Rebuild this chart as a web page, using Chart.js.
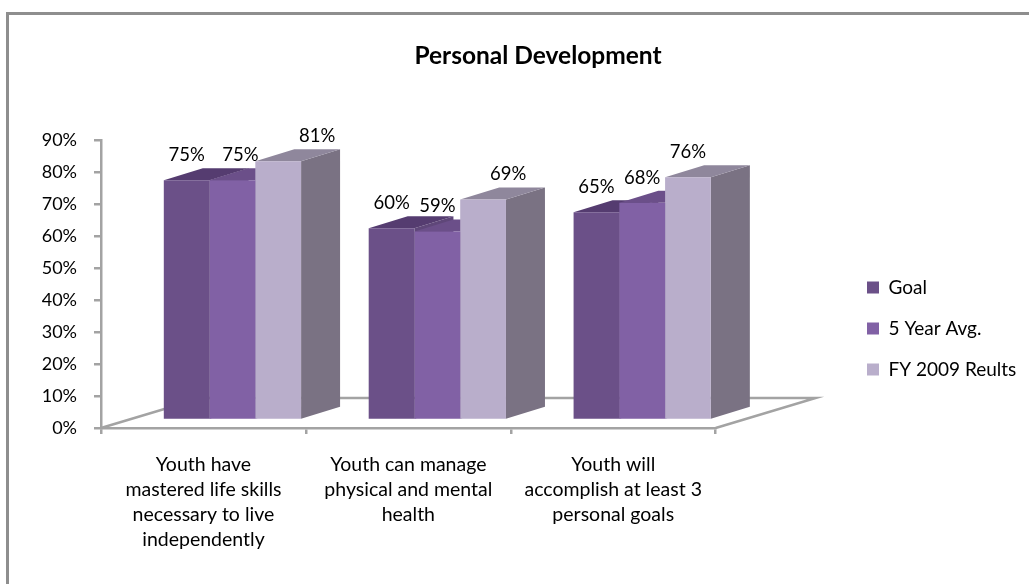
<!DOCTYPE html>
<html lang="en">
<head>
    <meta charset="UTF-8">
    <title>Personal Development</title>
    <script src="https://cdn.jsdelivr.net/npm/chart.js@4/dist/chart.umd.min.js"></script>
    <style>
        html, body { margin: 0; padding: 0; background: #fff; }
        #wrap { width: 1029px; height: 584px; }
    </style>
</head>
<body>
    <div id="wrap"><canvas id="chart" width="1029" height="584"></canvas></div>

    <script>
        const categories = [
            ['Youth have', 'mastered life skills', 'necessary to live', 'independently'],
            ['Youth can manage', 'physical and mental', 'health'],
            ['Youth will', 'accomplish at least 3', 'personal goals']
        ];
        const goal = [75, 60, 65];
        const fiveYearAvg = [75, 59, 68];
        const fyResults = [81, 69, 76];
        const yTicks = [0, 10, 20, 30, 40, 50, 60, 70, 80, 90];

        const FONT = 'Lato, "Open Sans", sans-serif';
        const AXIS = '#a3a3a3';
        // depth of the 3d look, in pixels
        const BAR_SHIFT = { x: 29, y: -8 };
        const BAR_DEPTH = { x: 39, y: -12 };
        const FLOOR = { x: 100, y: -30 };
        // hand placed labels in the original, [dataset][category]
        const LABEL_DX = [[0, 0, 0], [8, 0, 0], [39, 25, 0]];

        const faces = [
            { front: '#6b5088', side: '#5f4779', top: '#553c70' },
            { front: '#8161a5', side: '#6c5189', top: '#6b4f89' },
            { front: '#b9aecb', side: '#7a7283', top: '#8f879c' }
        ];

        function face(ctx, pts, color) {
            ctx.fillStyle = color;
            ctx.beginPath();
            pts.forEach((p, i) => i ? ctx.lineTo(p[0], p[1]) : ctx.moveTo(p[0], p[1]));
            ctx.closePath();
            ctx.fill();
        }

        const plot3d = {
            id: 'plot3d',
            afterLayout(chart) {
                chart.titleBlock.left = 0;
                chart.titleBlock.right = 1076;
                // legend sits far from the plot in the original
                const lg = chart.legend;
                lg.left = 845;
                lg.right = 1029;
                lg.top = 256;
                lg.bottom = 584;
            },
            beforeDraw(chart) {
                // the frame is cropped, only top and left are left
                const ctx = chart.ctx;
                ctx.save();
                ctx.strokeStyle = '#8e8e8e';
                ctx.lineWidth = 3;
                ctx.beginPath();
                ctx.moveTo(1029, 13.5);
                ctx.lineTo(7.5, 13.5);
                ctx.lineTo(7.5, 584);
                ctx.stroke();
                ctx.restore();
            },
            beforeDatasetsDraw(chart) {
                const { ctx, chartArea: a } = chart;
                ctx.save();
                ctx.strokeStyle = AXIS;
                ctx.lineWidth = 2.5;
                ctx.beginPath();
                ctx.moveTo(a.left, a.bottom);
                ctx.lineTo(a.left + FLOOR.x, a.bottom + FLOOR.y);
                ctx.lineTo(a.right + FLOOR.x, a.bottom + FLOOR.y);
                ctx.lineTo(a.right, a.bottom);
                ctx.stroke();
                ctx.restore();

                // sides and tops first, the front faces cover them afterwards
                ctx.save();
                ctx.translate(BAR_SHIFT.x, BAR_SHIFT.y);
                chart.data.datasets.forEach((ds, i) => {
                    const c = faces[i];
                    chart.getDatasetMeta(i).data.forEach(bar => {
                        const l = bar.x - bar.width / 2, r = bar.x + bar.width / 2;
                        const dx = BAR_DEPTH.x, dy = BAR_DEPTH.y;
                        face(ctx, [[r, bar.y], [r + dx, bar.y + dy], [r + dx, bar.base + dy], [r, bar.base]], c.side);
                        face(ctx, [[l, bar.y], [l + dx, bar.y + dy], [r + dx, bar.y + dy], [r, bar.y]], c.top);
                    });
                });
                ctx.restore();
            },
            beforeDatasetDraw(chart) {
                chart.ctx.save();
                chart.ctx.translate(BAR_SHIFT.x, BAR_SHIFT.y);
            },
            afterDatasetDraw(chart) {
                chart.ctx.restore();
            },
            afterDatasetsDraw(chart) {
                const ctx = chart.ctx;
                ctx.save();
                ctx.font = '18.5px ' + FONT;
                ctx.fillStyle = '#000';
                ctx.textAlign = 'center';
                ctx.textBaseline = 'middle';
                chart.data.datasets.forEach((ds, i) => {
                    chart.getDatasetMeta(i).data.forEach((bar, j) => {
                        ctx.fillText(ds.data[j] + '%', bar.x + BAR_SHIFT.x + LABEL_DX[i][j], bar.y + BAR_SHIFT.y - 25);
                    });
                });
                ctx.restore();
            }
        };

        new Chart(document.getElementById('chart'), {
            type: 'bar',
            plugins: [plot3d],
            data: {
                labels: categories,
                datasets: [
                    { label: 'Goal', data: goal, backgroundColor: faces[0].front },
                    { label: '5 Year Avg.', data: fiveYearAvg, backgroundColor: faces[1].front },
                    { label: 'FY 2009 Reults', data: fyResults, backgroundColor: faces[2].front }
                ]
            },
            options: {
                responsive: false,
                animation: false,
                clip: false,
                categoryPercentage: 0.67,
                barPercentage: 1,
                layout: { padding: { right: 132 } },
                plugins: {
                    title: {
                        display: true,
                        text: 'Personal Development',
                        color: '#000',
                        font: { family: FONT, size: 24.5, weight: 'bold' },
                        padding: { top: 41, bottom: 70 }
                    },
                    legend: {
                        position: 'right',
                        align: 'start',
                        labels: {
                            color: '#000',
                            font: { family: FONT, size: 19 },
                            boxWidth: 12,
                            boxHeight: 12,
                            padding: 22
                        }
                    },
                    tooltip: { enabled: false }
                },
                scales: {
                    x: {
                        afterFit: s => { s.height = 156; },
                        grid: { drawOnChartArea: false, color: AXIS, lineWidth: 2.5, tickLength: 6 },
                        border: { color: AXIS, width: 2.5 },
                        ticks: { color: '#000', font: { family: FONT, size: 19.5, lineHeight: 1.28 }, padding: 18, maxRotation: 0 }
                    },
                    y: {
                        min: 0,
                        max: 90,
                        afterFit: s => { s.width = 101; },
                        afterBuildTicks: s => { s.ticks = yTicks.map(v => ({ value: v })); },
                        grid: { drawOnChartArea: false, color: AXIS, lineWidth: 2.5, tickLength: 7 },
                        border: { color: AXIS, width: 2.5 },
                        ticks: { color: '#000', font: { family: FONT, size: 18 }, padding: 17, callback: v => v + '%' }
                    }
                }
            }
        });
    </script>
</body>
</html>
